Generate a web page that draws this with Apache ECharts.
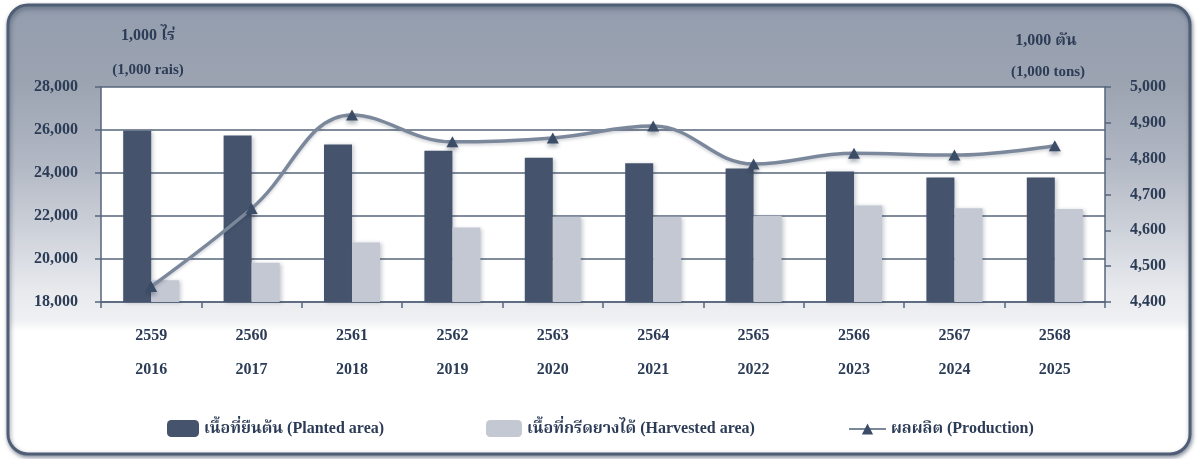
<!DOCTYPE html>
<html>
<head>
<meta charset="utf-8">
<script src="https://cdn.jsdelivr.net/npm/echarts@6/dist/echarts.min.js"></script>
<style>
  html, body { margin: 0; padding: 0; background: #ffffff; }
  #chart { width: 1197px; height: 459px; }
</style>
</head>
<body>
<div id="chart"></div>
<script>
// Rubber: planted area, harvested area (1,000 rai) and production (1,000 tons)
const yearsBE = ['2559', '2560', '2561', '2562', '2563', '2564', '2565', '2566', '2567', '2568'];
const yearsAD = ['2016', '2017', '2018', '2019', '2020', '2021', '2022', '2023', '2024', '2025'];
const plantedArea = [25970, 25740, 25330, 25040, 24710, 24450, 24210, 24070, 23790, 23790];
const harvestedArea = [19010, 19830, 20770, 21460, 21970, 21970, 22010, 22490, 22360, 22330];
const production = [4443, 4661, 4922, 4847, 4858, 4891, 4785, 4815, 4810, 4836];

const leftTicks = { min: 18000, max: 28000, interval: 2000 };
const rightTicks = { min: 4400, max: 5000, interval: 100 };

const seriesNames = [
  'เนื้อที่ยืนต้น (Planted area)',
  'เนื้อที่กรีดยางได้ (Harvested area)',
  'ผลผลิต (Production)'
];

const FONT = "'Liberation Serif', 'Noto Serif Thai', 'Noto Sans Thai', 'Noto Sans', 'DejaVu Sans', serif";
const INK = '#2c3c56';
const AXIS = '#56657b';

const withCommas = v => String(v).replace(/\B(?=(\d{3})+(?!\d))/g, ',');

const chart = echarts.init(document.getElementById('chart'), null, { renderer: 'canvas' });

const legendText = { color: INK, fontFamily: FONT, fontWeight: 'bold', fontSize: 16 };

chart.setOption({
  animation: false,
  backgroundColor: '#ffffff',
  graphic: [
    {
      type: 'rect',
      z: -10,
      silent: true,
      shape: { x: 8, y: 5, width: 1182, height: 449, r: 20 },
      style: {
        fill: {
          type: 'linear', x: 0, y: 0, x2: 0, y2: 1,
          colorStops: [
            { offset: 0.00, color: '#8c96a6' },
            { offset: 0.03, color: '#959eae' },
            { offset: 0.18, color: '#9ca4b2' },
            { offset: 0.35, color: '#b1b7c3' },
            { offset: 0.50, color: '#cdd1d9' },
            { offset: 0.64, color: '#e8eaee' },
            { offset: 0.70, color: '#eff0f3' },
            { offset: 0.725, color: '#ffffff' },
            { offset: 1.00, color: '#ffffff' }
          ]
        },
        stroke: '#4f5e75',
        lineWidth: 3,
        shadowBlur: 4,
        shadowOffsetX: 1,
        shadowOffsetY: 2,
        shadowColor: 'rgba(40,55,80,0.5)'
      }
    },
    {
      type: 'text', silent: true,
      style: { text: '1,000 ไร่', x: 148, y: 36, textAlign: 'center', textVerticalAlign: 'middle',
               font: 'bold 16px ' + FONT, fill: INK }
    },
    {
      type: 'text', silent: true,
      style: { text: '(1,000 rais)', x: 148, y: 70, textAlign: 'center', textVerticalAlign: 'middle',
               font: 'bold 15px ' + FONT, fill: INK }
    },
    {
      type: 'text', silent: true,
      style: { text: '1,000 ตัน', x: 1046, y: 41, textAlign: 'center', textVerticalAlign: 'middle',
               font: 'bold 16px ' + FONT, fill: INK }
    },
    {
      type: 'text', silent: true,
      style: { text: '(1,000 tons)', x: 1048, y: 72, textAlign: 'center', textVerticalAlign: 'middle',
               font: 'bold 15px ' + FONT, fill: INK }
    }
  ],
  grid: {
    left: 101, right: 92, top: 87, bottom: 157,
    show: true, backgroundColor: '#ffffff', borderWidth: 0
  },
  legend: [
    {
      data: [seriesNames[0]], left: 167, top: 420, padding: 0, itemWidth: 32, itemHeight: 17, itemGap: 0,
      textStyle: legendText
    },
    {
      data: [seriesNames[1]], left: 486, top: 420, padding: 0, itemWidth: 36, itemHeight: 17, itemGap: 0,
      textStyle: legendText
    },
    {
      data: [seriesNames[2]], left: 848, top: 421, padding: 0, itemWidth: 37, itemHeight: 14, itemGap: 0,
      textStyle: legendText
    }
  ],
  xAxis: {
    type: 'category',
    data: yearsBE,
    axisLine: { show: true, lineStyle: { color: AXIS, width: 1.5 } },
    axisTick: { show: true, length: 6, lineStyle: { color: AXIS, width: 1.5 } },
    axisLabel: {
      margin: 17,
      lineHeight: 34,
      color: INK, fontFamily: FONT, fontWeight: 'bold', fontSize: 16,
      formatter: (v, i) => yearsBE[i] + '\n' + yearsAD[i]
    },
    splitLine: { show: false }
  },
  yAxis: [
    {
      type: 'value',
      position: 'left',
      min: leftTicks.min, max: leftTicks.max, interval: leftTicks.interval,
      axisLine: { show: true, lineStyle: { color: AXIS, width: 1.5 } },
      axisTick: { show: true, length: 6, lineStyle: { color: AXIS, width: 1.5 } },
      axisLabel: {
        margin: 23, color: INK, fontFamily: FONT, fontWeight: 'bold', fontSize: 16,
        formatter: withCommas
      },
      splitLine: { show: true, lineStyle: { color: AXIS, width: 1.5 } }
    },
    {
      type: 'value',
      position: 'right',
      min: rightTicks.min, max: rightTicks.max, interval: rightTicks.interval,
      axisLine: { show: true, lineStyle: { color: AXIS, width: 1.5 } },
      axisTick: { show: true, length: 6, lineStyle: { color: AXIS, width: 1.5 } },
      axisLabel: {
        margin: 25, color: INK, fontFamily: FONT, fontWeight: 'bold', fontSize: 16,
        formatter: withCommas
      },
      splitLine: { show: false }
    }
  ],
  series: [
    {
      name: seriesNames[0],
      type: 'bar',
      yAxisIndex: 0,
      data: plantedArea,
      barWidth: 28,
      barGap: '0%',
      itemStyle: {
        color: '#45546c',
        shadowBlur: 4, shadowOffsetX: 2, shadowOffsetY: 1, shadowColor: 'rgba(40,50,70,0.25)'
      }
    },
    {
      name: seriesNames[1],
      type: 'bar',
      yAxisIndex: 0,
      data: harvestedArea,
      barWidth: 28,
      barGap: '0%',
      itemStyle: {
        color: '#c3c8d3',
        shadowBlur: 4, shadowOffsetX: 2, shadowOffsetY: 1, shadowColor: 'rgba(40,50,70,0.25)'
      }
    },
    {
      name: seriesNames[2],
      type: 'line',
      yAxisIndex: 1,
      data: production,
      smooth: 0.4,
      symbol: 'triangle',
      symbolSize: [12, 11],
      lineStyle: {
        color: '#7b889b', width: 3.5,
        shadowBlur: 3, shadowOffsetY: 2, shadowColor: 'rgba(40,50,70,0.2)'
      },
      itemStyle: {
        color: '#3b4c66',
        shadowBlur: 4, shadowOffsetY: 3, shadowColor: 'rgba(40,50,70,0.4)'
      },
      z: 5
    }
  ]
});
</script>
</body>
</html>
